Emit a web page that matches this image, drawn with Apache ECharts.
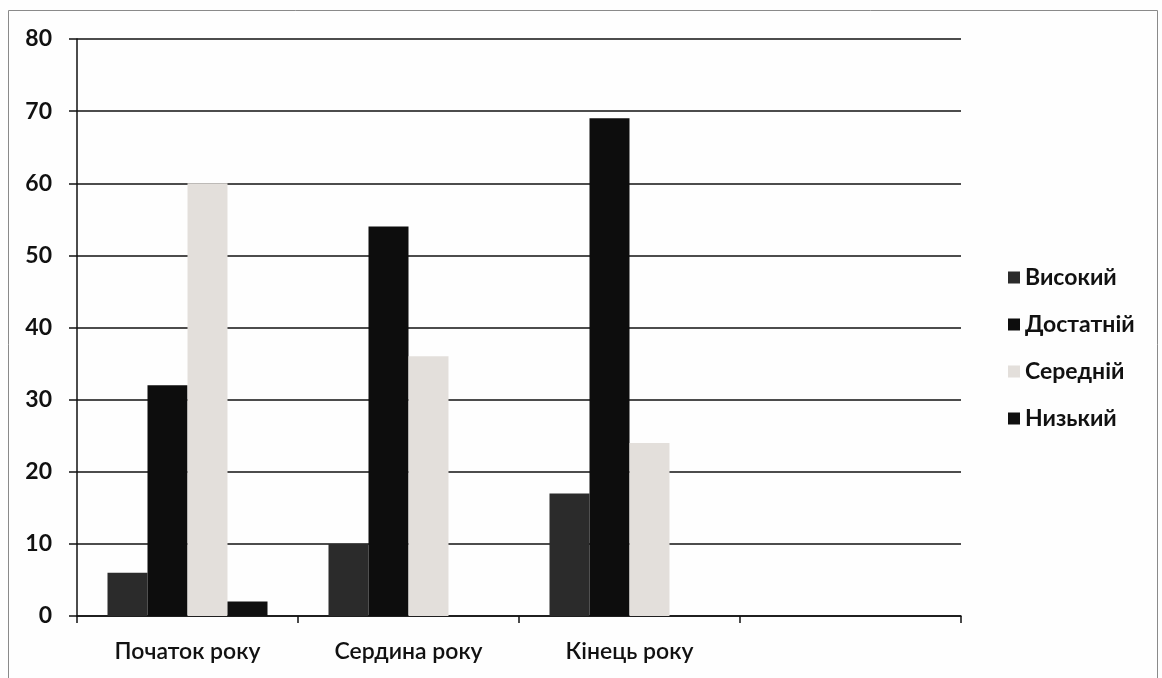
<!DOCTYPE html>
<html><head><meta charset="utf-8">
<script src="https://cdn.jsdelivr.net/npm/echarts@6/dist/echarts.min.js"></script>
<style>html,body{margin:0;padding:0;background:#fff}#c{width:1162px;height:678px}</style>
</head><body><div id="c"></div>
<script>
const categories = ['Початок року', 'Сердина року', 'Кінець року', ''];
const seriesNames = ['Високий', 'Достатній', 'Середній', 'Низький'];
const vysokyi = [6, 10, 17, null];
const dostatnii = [32, 54, 69, null];
const serednii = [60, 36, 24, null];
const nyzkyi = [2, 0, 0, null];
const yTicks = [0, 10, 20, 30, 40, 50, 60, 70, 80];
const colors = ['#2b2b2b', '#0d0d0d', '#e3dfdb', '#101010'];
const values = [vysokyi, dostatnii, serednii, nyzkyi];

const chart = echarts.init(document.getElementById('c'));
const font = 'Lato, "Open Sans", sans-serif';
chart.setOption({
  animation: false,
  backgroundColor: '#fefefe',
  graphic: [{
    type: 'rect', shape: {x: 8.5, y: 10.5, width: 1149, height: 700},
    style: {fill: 'none', stroke: '#8a8a8a', lineWidth: 1}, silent: true, z: -1
  }],
  grid: {left: 77, right: 201, top: 39, bottom: 62},
  legend: {
    orient: 'vertical', left: 1003, top: 261, itemGap: 24,
    itemWidth: 12, itemHeight: 12, icon: 'rect',
    textStyle: {fontFamily: font, fontSize: 23, fontWeight: 'bold', color: '#111'},
    data: seriesNames
  },
  xAxis: {
    type: 'category', data: categories, boundaryGap: true,
    axisLine: {lineStyle: {color: '#111', width: 1.5}},
    axisTick: {show: true, length: 7, lineStyle: {color: '#111', width: 1.5}},
    axisLabel: {fontFamily: font, fontSize: 23, color: '#111', margin: 24, fontWeight: 600}
  },
  yAxis: {
    type: 'value', min: yTicks[0], max: yTicks[yTicks.length - 1], interval: 10,
    axisLine: {show: true, lineStyle: {color: '#111', width: 1.5}},
    axisTick: {show: true, length: 8, inside: false, lineStyle: {color: '#111', width: 1.5}},
    axisLabel: {fontFamily: font, fontSize: 23, fontWeight: 'bold', color: '#111', margin: 25},
    splitLine: {show: true, lineStyle: {color: '#111', width: 1.5}}
  },
  series: seriesNames.map((n, i) => ({
    name: n, type: 'bar', data: values[i],
    barGap: '0%', barCategoryGap: '27.6%',
    itemStyle: {color: colors[i]}
  }))
});
</script></body></html>
